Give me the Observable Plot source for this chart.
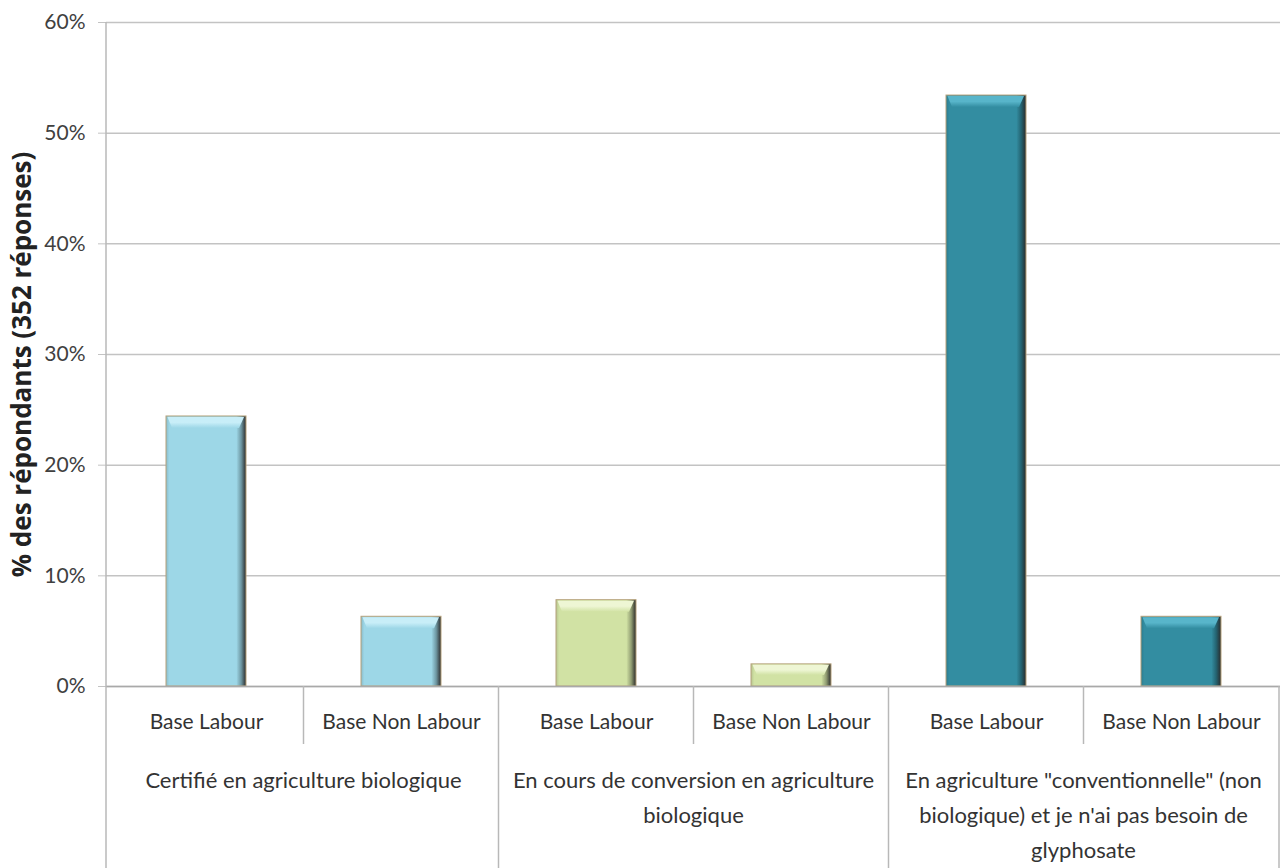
<!DOCTYPE html>
<html><head><meta charset="utf-8">
<script src="https://cdn.jsdelivr.net/npm/d3@7"></script>
<script src="https://cdn.jsdelivr.net/npm/@observablehq/plot@0.6"></script>
<style>body{margin:0;background:#fff} svg{display:block}</style>
</head><body><div id="chart"></div>
<script>
// ---- data ----
const groups = [
  "Certifié en agriculture biologique",
  "En cours de conversion en agriculture biologique",
  "En agriculture \"conventionnelle\" (non biologique) et je n'ai pas besoin de glyphosate"
];
const groupLines = [
  ["Certifié en agriculture biologique"],
  ["En cours de conversion en agriculture", "biologique"],
  ["En agriculture \"conventionnelle\" (non", "biologique) et je n'ai pas besoin de", "glyphosate"]
];
const subs = ["Base Labour", "Base Non Labour"];
const values = [
  [24.4, 6.3],
  [7.8, 2.0],
  [53.4, 6.3]
];
const yTicks = [0, 10, 20, 30, 40, 50, 60];
const yLabel = "% des répondants (352 réponses)";
const bodyColors = ["#9dd7e7", "#d1e2a4", "#338da1"];
const topColors = ["#c8eef8", "#eef6d4", "#58b5ca"];

// ---- build rows ----
const rows = [];
groups.forEach((g, gi) => subs.forEach((s, si) => rows.push({gi, key: gi + "|" + s, sub: s, value: values[gi][si]})));
const keys = rows.map(d => d.key);

function defs() {
  const d = d3.create("svg:defs");
  bodyColors.forEach((c, i) => {
    const lg = d.append("linearGradient").attr("id", "g" + i).attr("x1", 0).attr("x2", 1).attr("y1", 0).attr("y2", 0);
    const base = d3.color(c);
    [[0, base.darker(0.4)], [0.04, base], [0.88, base], [0.94, base.darker(1)], [1, d3.color("#2a2a2a")]]
      .forEach(([o, col]) => lg.append("stop").attr("offset", o).attr("stop-color", col.formatHex()));
    const tg = d.append("linearGradient").attr("id", "t" + i).attr("x1", 0).attr("x2", 0).attr("y1", 0).attr("y2", 1);
    [[0, d3.color(topColors[i])], [0.5, d3.color(topColors[i])], [1, base]]
      .forEach(([o, col]) => tg.append("stop").attr("offset", o).attr("stop-color", col.formatHex()));
  });
  return d.node();
}

function bevels(index, scales) {
  const {x, y} = scales;
  const bw = x.bandwidth();
  const g = d3.create("svg:g");
  rows.forEach(r => {
    const x0 = x(r.key), top = y(r.value), h = Math.min(12, (y(0) - top) / 2);
    g.append("polygon")
      .attr("points", [[x0 + 1.5, top + 1], [x0 + bw - 2, top + 1], [x0 + bw - 7, top + h], [x0 + 6, top + h]].map(p => p.join(",")).join(" "))
      .attr("fill", "url(#t" + r.gi + ")");
  });
  return g.node();
}

function decor(index, scales, vals, dims) {
  const x = scales.x;
  const bw = x.bandwidth();
  const step = x.step();
  const pad = (step - bw) / 2;
  const {width, height, marginLeft, marginTop, marginBottom} = dims;
  const yb = height - marginBottom;
  const g = d3.create("svg:g");
  const line = (x1, y1, x2, y2) => g.append("line").attr("x1", x1).attr("y1", y1).attr("x2", x2).attr("y2", y2)
    .attr("stroke", "#b8b8b8").attr("stroke-width", 1.5);
  line(marginLeft, marginTop, marginLeft, height);
  groups.forEach((grp, gi) => {
    const left = x(keys[2 * gi]) - pad;
    const mid = x(keys[2 * gi + 1]) - pad;
    if (gi > 0) line(left, yb, left, height);
    line(mid, yb, mid, yb + 58);
    const cx = left + step;
    groupLines[gi].forEach((t, j) => {
      g.append("text").attr("x", cx).attr("y", yb + 96 + j * 35)
        .attr("text-anchor", "middle").attr("dominant-baseline", "middle")
        .attr("fill", "#333").attr("font-size", 22).text(t);
    });
  });
  line(width - 1, yb, width - 1, height);
  return g.node();
}

const chart = Plot.plot({
  width: 1280,
  height: 868,
  marginLeft: 106,
  marginRight: 0,
  marginTop: 22,
  marginBottom: 182,
  style: {fontFamily: "Lato, 'Open Sans', sans-serif", fontSize: "21px", color: "#404040", background: "#fff"},
  x: {domain: keys, paddingInner: 0.59, paddingOuter: 0.295, axis: null},
  y: {domain: [0, 60], ticks: yTicks, label: null},
  color: {type: "identity"},
  marks: [
    defs,
    Plot.gridY(yTicks, {stroke: "#c3c3c3", strokeOpacity: 1, strokeWidth: 1.5}),
    Plot.axisY(yTicks, {tickFormat: d => d + "%", tickSize: 8, tickPadding: 13, stroke: "#c3c3c3", fill: "#404040", fontSize: 21, label: null}),
    Plot.barY(rows, {x: "key", y: "value", fill: d => "url(#g" + d.gi + ")", stroke: "#b6a27c", strokeWidth: 1}),
    bevels,
    Plot.ruleY([0], {stroke: "#a9a9a9", strokeWidth: 1.5}),
    Plot.axisX(keys, {tickSize: 0, tickPadding: 28, tickFormat: k => k.split("|")[1], fill: "#333", fontSize: 21, label: null}),
    Plot.text([yLabel], {frameAnchor: "left", rotate: -90, dx: -84, dy: 10, textAnchor: "middle", fontWeight: "bold", fontSize: 26, fontFamily: "'Open Sans', sans-serif", fill: "#222"}),
    decor
  ]
});
document.getElementById("chart").append(chart);
</script>
</body></html>
